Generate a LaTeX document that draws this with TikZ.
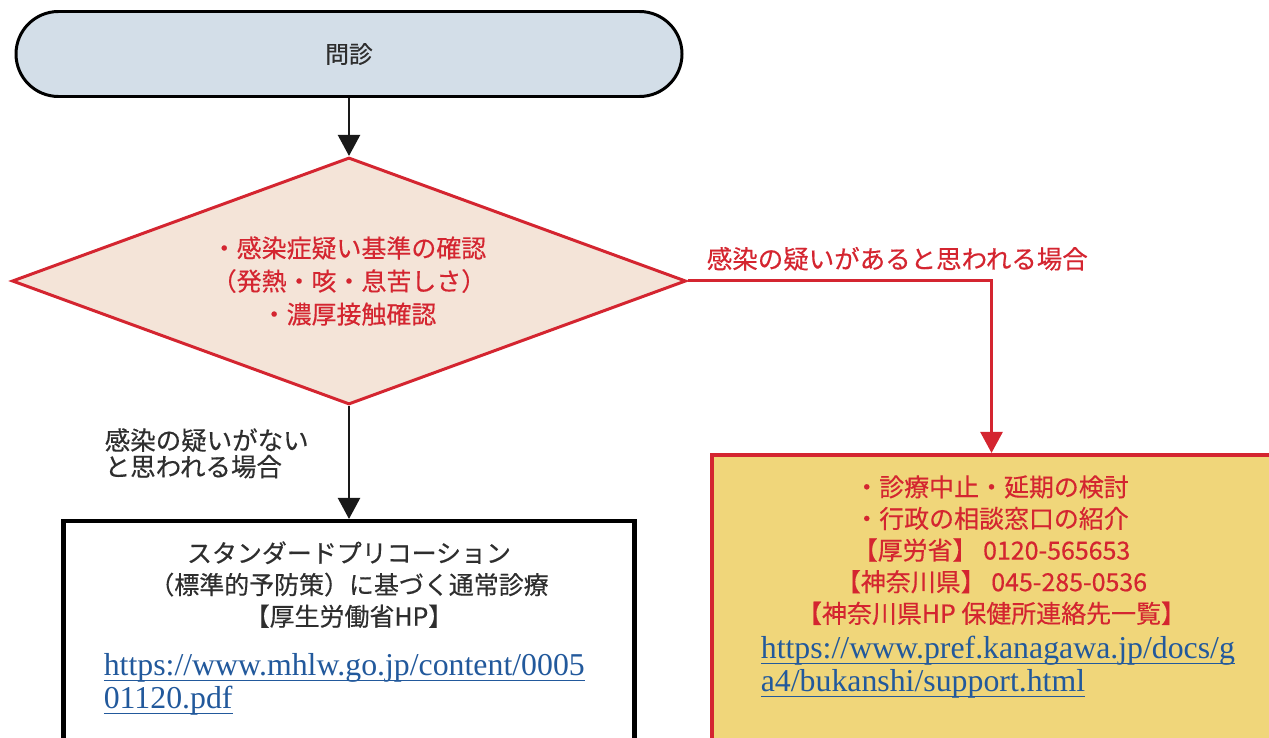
\documentclass[tikz,border=0pt]{standalone}
\usepackage{fontspec}
\setmainfont{Liberation Serif}
\newfontfamily\jpfont[FakeBold=0.4]{Noto Sans CJK JP}
\usetikzlibrary{positioning,shapes.geometric,arrows.meta}

\definecolor{flowred}{HTML}{D42530}
\definecolor{pillfill}{HTML}{D3DEE8}
\definecolor{chkfill}{HTML}{F4E4D8}
\definecolor{actfill}{HTML}{F0D67A}
\definecolor{linkblue}{HTML}{22599C}
\definecolor{labelgray}{HTML}{2E2E2E}

% underlined link text, rule at a fixed distance under the baseline
\newsavebox{\linkbox}
\newcommand{\ulink}[1]{\sbox{\linkbox}{#1}\rlap{\rule[-3.2pt]{\wd\linkbox}{0.7pt}}\usebox{\linkbox}}

\tikzset{
  pill/.style={draw=black, line width=1.7pt, fill=pillfill, rounded corners=0.85cm,
    minimum width=13.32cm, minimum height=1.7cm, text=labelgray,
    font={\jpfont\fontsize{13.5}{16}\selectfont}},
  check/.style={diamond, aspect=2.7, draw=flowred, line width=1.7pt, fill=chkfill,
    minimum width=13.48cm, minimum height=4.94cm, inner sep=0pt, align=center,
    text=flowred, font={\jpfont\fontsize{14.2}{18.8}\selectfont}},
  stdbox/.style={draw=black, line width=2.3pt, fill=white,
    minimum width=11.42cm, minimum height=5.2cm},
  actbox/.style={draw=flowred, line width=2.3pt, fill=actfill,
    minimum width=11.2cm, minimum height=6.6cm},
  boxtext/.style={inner sep=0pt, align=center,
    font={\jpfont\fontsize{14.2}{18}\selectfont}},
  urltext/.style={inner sep=0pt, align=left, text=linkblue,
    font={\fontsize{18.1}{18.8}\selectfont}},
  caselabel/.style={inner sep=0pt, align=left,
    font={\jpfont\fontsize{14.5}{15}\selectfont}},
  blackarrow/.style={line width=1.5pt, draw=black!90, -{Triangle[width=12.5pt,length=12pt]}},
  redarrow/.style={line width=1.7pt, draw=flowred, -{Triangle[width=12.5pt,length=12pt]}}
}

\begin{document}
\begin{tikzpicture}
  \useasboundingbox (0,0) rectangle (25.38,-14.76);

  \node (mon) [pill] at (6.98,-1.08) {問診};
  \node (chk) [check, below=1.16cm of mon]
    {・感染症疑い基準の確認\\（発熱・咳・息苦しさ）\\・濃厚接触確認};
  \node (std) [stdbox, below=2.26cm of chk] {};
  \node (act) [actbox, below right=3.44cm and 0.44cm of chk.east] {};

  \node (stdtxt) [boxtext, text=labelgray, below=0.44cm of std.north]
    {スタンダードプリコーション\\（標準的予防策）に基づく通常診療\\【厚生労働省HP】};
  \node (stdurl) [urltext, below right=2.68cm and 0.84cm of std.north west]
    {\ulink{https://www.mhlw.go.jp/content/0005}\\\ulink{01120.pdf}};

  \node (acttxt) [boxtext, text=flowred, below=0.44cm of act.north]
    {・診療中止・延期の検討\\・行政の相談窓口の紹介\\【厚労省】 0120-565653\\【神奈川県】 045-285-0536\\【神奈川県HP 保健所連絡先一覧】};
  \node (acturl) [urltext, below right=3.66cm and 1.02cm of act.north west]
    {\ulink{https://www.pref.kanagawa.jp/docs/g}\\\ulink{a4/bukanshi/support.html}};

  \draw [blackarrow] (mon) -- (chk);
  \draw [blackarrow] (chk) -- (std);
  \draw [redarrow] (chk.east) -| (act.north);

  \node (yes) [caselabel, text=flowred, above right=0.2cm and 0.38cm of chk.east]
    {感染の疑いがあると思われる場合};
  \node (no) [caselabel, text=labelgray, below left=0.44cm and 0.8cm of chk.south]
    {感染の疑いがない\\と思われる場合};
\end{tikzpicture}
\end{document}
